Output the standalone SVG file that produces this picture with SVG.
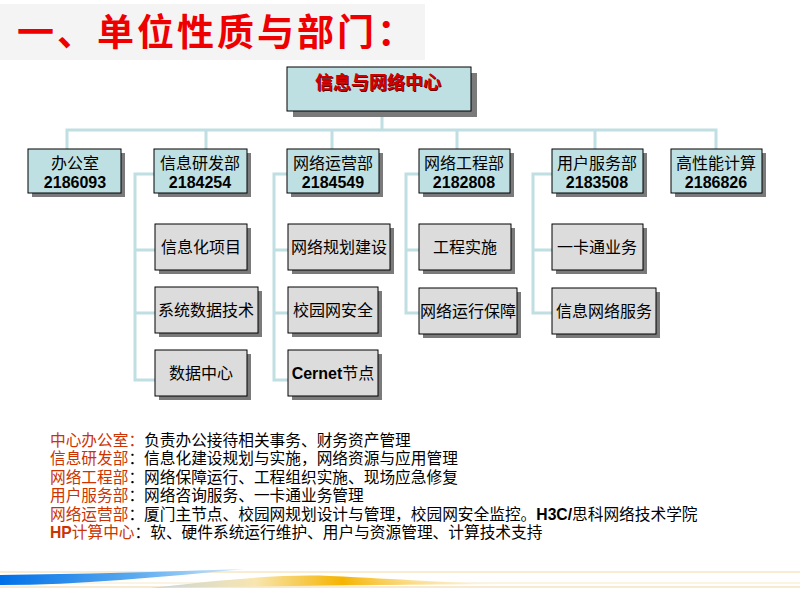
<svg xmlns="http://www.w3.org/2000/svg" width="800" height="600" viewBox="0 0 800 600">
<style>
.t{font-family:"Liberation Sans","Noto Sans CJK SC",sans-serif;font-size:16px;text-anchor:middle;fill:#000}
.n{font-weight:bold}
.box{fill:#bfe0e3;stroke:#000;stroke-width:1}
.sub{fill:#dcdcdc;stroke:#000;stroke-width:1}
.sh{fill:#7a7a7a}
.conn{stroke:#bfdfe2;stroke-width:3;fill:none}
.d{font-family:"Liberation Sans","Noto Sans CJK SC",sans-serif;font-size:15.7px;fill:#000}
.lb{fill:#cc3300}
</style>
<defs>
<linearGradient id="gb" x1="0" y1="0" x2="1" y2="0">
<stop offset="0" stop-color="#0070e8"/><stop offset="0.55" stop-color="#5aaaf0"/><stop offset="1" stop-color="#d8ecfa"/>
</linearGradient>
<linearGradient id="gg" x1="0" y1="0" x2="1" y2="0">
<stop offset="0" stop-color="#c8d4dc"/><stop offset="0.3" stop-color="#f8e6b0"/><stop offset="0.55" stop-color="#f5b400"/><stop offset="1" stop-color="#fff4d8" stop-opacity="0.3"/>
</linearGradient>
</defs>
<rect width="800" height="600" fill="#fff"/>
<!-- title -->
<rect x="0" y="4" width="425" height="56" fill="#f4f4f4"/>
<text x="17" y="46" font-family="Noto Sans CJK SC,sans-serif" font-size="37" font-weight="700" fill="#ee0000" letter-spacing="3">一、单位性质与部门：</text>
<!-- connectors -->
<g id="connectors" class="conn">
<path d="M382,111V130M67,149V130H716V149M206,130V149M332,130V149M457,130V149M595,130V149"/>
<path d="M154,174H135V380H155M135,250H155M135,313H155"/>
<path d="M287,174H274V380H288M274,250H288M274,313H288"/>
<path d="M419,174H406V313H419M406,250H419"/>
<path d="M552,174H533V313H552M533,250H552"/>
</g>
<!-- top node -->
<g id="center">
<rect class="sh" x="293" y="73" width="184" height="44"/>
<rect class="box" x="287" y="67" width="184" height="44"/>
<text class="t" x="379" y="90" style="font-size:18px;fill:#600000;font-weight:bold">信息与网络中心</text>
<text class="t" x="378" y="89" style="font-size:18px;fill:#d40000;font-weight:bold">信息与网络中心</text>
</g>
<!-- row nodes -->
<g id="office"><rect class="sh" x="32" y="153" width="93" height="44"/><rect class="box" x="28" y="149" width="93" height="44"/><text class="t" x="75" y="169">办公室</text><text class="t n" x="75" y="188">2186093</text></g>
<g id="rd"><rect class="sh" x="158" y="153" width="93" height="44"/><rect class="box" x="154" y="149" width="93" height="44"/><text class="t" x="200" y="169">信息研发部</text><text class="t n" x="200" y="188">2184254</text></g>
<g id="ops"><rect class="sh" x="291" y="153" width="92" height="44"/><rect class="box" x="287" y="149" width="92" height="44"/><text class="t" x="333" y="169">网络运营部</text><text class="t n" x="333" y="188">2184549</text></g>
<g id="eng"><rect class="sh" x="423" y="153" width="91" height="44"/><rect class="box" x="419" y="149" width="91" height="44"/><text class="t" x="464" y="169">网络工程部</text><text class="t n" x="464" y="188">2182808</text></g>
<g id="user"><rect class="sh" x="556" y="153" width="91" height="44"/><rect class="box" x="552" y="149" width="91" height="44"/><text class="t" x="597" y="169">用户服务部</text><text class="t n" x="597" y="188">2183508</text></g>
<g id="hpc"><rect class="sh" x="675" y="153" width="91" height="44"/><rect class="box" x="671" y="149" width="91" height="44"/><text class="t" x="716" y="169">高性能计算</text><text class="t n" x="716" y="188">2186826</text></g>
<!-- sub nodes -->
<g id="s1"><rect class="sh" x="159" y="228" width="92" height="46"/><rect class="sub" x="155" y="224" width="92" height="46"/><text class="t" x="201" y="253">信息化项目</text></g>
<g id="s2"><rect class="sh" x="159" y="291" width="103" height="46"/><rect class="sub" x="155" y="287" width="103" height="46"/><text class="t" x="206" y="316">系统数据技术</text></g>
<g id="s3"><rect class="sh" x="159" y="354" width="92" height="46"/><rect class="sub" x="155" y="350" width="92" height="46"/><text class="t" x="201" y="379">数据中心</text></g>
<g id="s4"><rect class="sh" x="292" y="228" width="102" height="46"/><rect class="sub" x="288" y="224" width="102" height="46"/><text class="t" x="339" y="253">网络规划建设</text></g>
<g id="s5"><rect class="sh" x="292" y="291" width="90" height="46"/><rect class="sub" x="288" y="287" width="90" height="46"/><text class="t" x="333" y="316">校园网安全</text></g>
<g id="s6"><rect class="sh" x="292" y="354" width="90" height="46"/><rect class="sub" x="288" y="350" width="90" height="46"/><text class="t" x="333" y="379"><tspan font-weight="bold">Cernet</tspan>节点</text></g>
<g id="s7"><rect class="sh" x="423" y="228" width="92" height="46"/><rect class="sub" x="419" y="224" width="92" height="46"/><text class="t" x="465" y="253">工程实施</text></g>
<g id="s8"><rect class="sh" x="423" y="292" width="98" height="46"/><rect class="sub" x="419" y="288" width="98" height="46"/><text class="t" x="468" y="317">网络运行保障</text></g>
<g id="s9"><rect class="sh" x="556" y="228" width="91" height="46"/><rect class="sub" x="552" y="224" width="91" height="46"/><text class="t" x="597" y="253">一卡通业务</text></g>
<g id="s10"><rect class="sh" x="556" y="292" width="104" height="46"/><rect class="sub" x="552" y="288" width="104" height="46"/><text class="t" x="604" y="317">信息网络服务</text></g>
<!-- description -->
<g id="desc">
<text class="d" x="50" y="446"><tspan class="lb">中心办公室：</tspan>负责办公接待相关事务、财务资产管理</text>
<text class="d" x="50" y="464"><tspan class="lb">信息研发部</tspan>：信息化建设规划与实施，网络资源与应用管理</text>
<text class="d" x="50" y="483"><tspan class="lb">网络工程部</tspan>：网络保障运行、工程组织实施、现场应急修复</text>
<text class="d" x="50" y="501"><tspan class="lb">用户服务部</tspan>：网络咨询服务、一卡通业务管理</text>
<text class="d" x="50" y="520"><tspan class="lb">网络运营部</tspan>：厦门主节点、校园网规划设计与管理，校园网安全监控。<tspan font-weight="bold">H3C/</tspan>思科网络技术学院</text>
<text class="d" x="50" y="538"><tspan class="lb" font-weight="bold">HP</tspan><tspan class="lb">计算中心</tspan>：软、硬件系统运行维护、用户与资源管理、计算技术支持</text>
</g>
<!-- bottom stripe -->
<g id="stripe">
<line x1="0" y1="572" x2="800" y2="572" stroke="#f6e6c4" stroke-width="1.5"/>
<line x1="0" y1="583" x2="800" y2="583" stroke="#fbf0d8" stroke-width="1.5"/>
<line x1="0" y1="587" x2="800" y2="587" stroke="#f8ead0" stroke-width="2"/>
<path d="M0,575C80,574 160,572 245,569C160,577 80,585 0,585Z" fill="url(#gb)"/>
<path d="M150,588C220,580 280,574 330,576C400,579 450,583 500,584C420,585 330,585 150,588Z" fill="url(#gg)"/>
</g>
</svg>
